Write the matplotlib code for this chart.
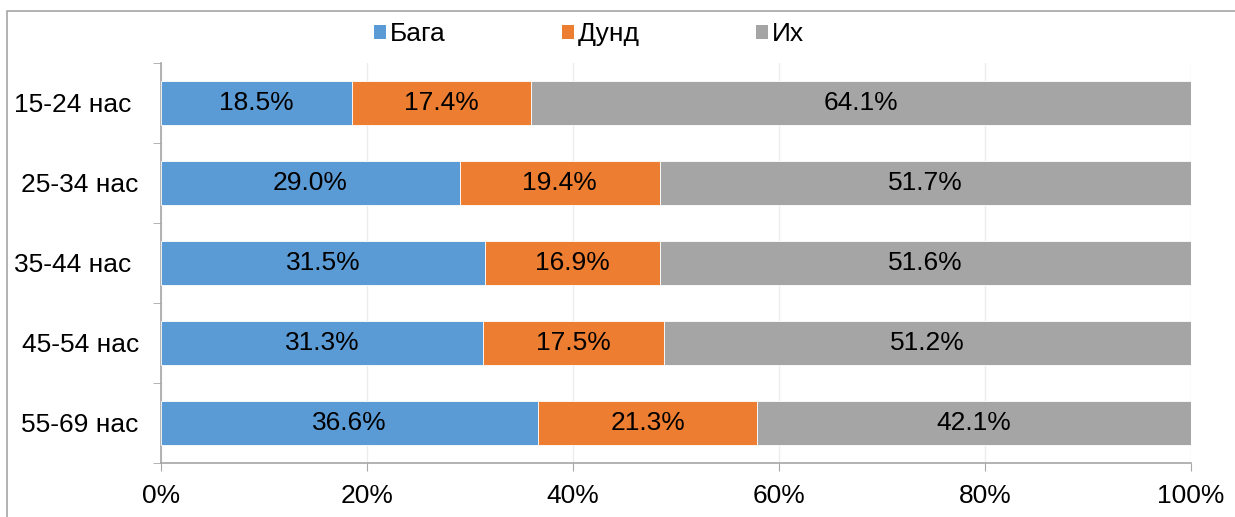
import numpy as np
import matplotlib
matplotlib.use('Agg')
import matplotlib.pyplot as plt
from matplotlib.patches import Patch, Rectangle

plt.rcParams['font.family'] = ['Liberation Sans', 'DejaVu Sans']

# Data
groups = ['15-24 нас ', '25-34 нас', '35-44 нас ', '45-54 нас', '55-69 нас']
series_names = ['Бага', 'Дунд', 'Их']
baga = [18.5, 29.0, 31.5, 31.3, 36.6]
dund = [17.4, 19.4, 16.9, 17.5, 21.3]
ikh = [64.1, 51.7, 51.6, 51.2, 42.1]
colors = ['#5B9BD5', '#ED7D31', '#A5A5A5']
x_ticks = [0, 20, 40, 60, 80, 100]

fs = 19

fig = plt.figure(figsize=(12.35, 5.17), dpi=100)
ax = fig.add_axes([161 / 1235, 1 - 463 / 517, 1030 / 1235, 400 / 517])

# outer chart border (runs off the right and bottom edges)
fig.patches.append(Rectangle((7 / 1235, -0.1), 1.2, 1 - 11 / 517 + 0.1,
                             transform=fig.transFigure, fill=False,
                             edgecolor='#a6a6a6', linewidth=1.2))

y = np.arange(len(groups))
left = np.zeros(len(groups))
for vals, color in zip([baga, dund, ikh], colors):
    bars = ax.barh(y, vals, left=left, height=0.55, color=color,
                   edgecolor='white', linewidth=0.6, zorder=3)
    for b, v in zip(bars, vals):
        ax.text(b.get_x() + b.get_width() / 2, b.get_y() + b.get_height() / 2,
                f'{v:.1f}%', ha='center', va='center', fontsize=fs,
                color='black', zorder=4)
    left += np.array(vals)

ax.set_xlim(0, 100)
ax.set_ylim(len(groups) - 0.5, -0.5)
ax.set_xticks(x_ticks)
ax.set_xticklabels([f'{t}%' for t in x_ticks], fontsize=fs)
ax.set_yticks(y)
ax.set_yticklabels(groups, fontsize=fs)
ax.set_yticks(np.arange(len(groups) + 1) - 0.5, minor=True)

ax.tick_params(axis='y', which='major', length=0, pad=16)
ax.tick_params(axis='y', which='minor', length=6, color='#a6a6a6', direction='out')
ax.tick_params(axis='x', length=6, color='#a6a6a6', pad=9)

ax.grid(axis='x', color='#ececec', linewidth=1, zorder=0)
ax.set_axisbelow(True)
for side in ['top', 'right']:
    ax.spines[side].set_visible(False)
for side in ['left', 'bottom']:
    ax.spines[side].set_color('#a6a6a6')
    ax.spines[side].set_linewidth(1.2)

handles = [Patch(facecolor=c, edgecolor='none') for c in colors]
fig.legend(handles, series_names, loc='center left',
           bbox_to_anchor=(374 / 1235, 1 - 34 / 517), ncol=3, frameon=False,
           fontsize=fs, handlelength=0.45, handleheight=0.45, handletextpad=0.15,
           columnspacing=4.4, borderpad=0, borderaxespad=0)

fig.savefig('out.png', dpi=100)
